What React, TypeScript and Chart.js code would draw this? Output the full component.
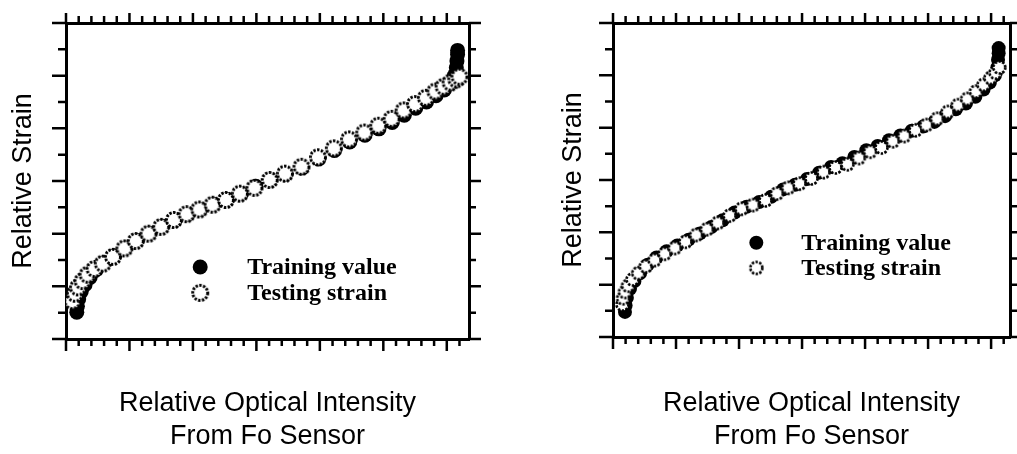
import React, { useEffect, useRef } from "react";
import { Chart, registerables } from "chart.js";

Chart.register(...registerables);

// ---------- text ----------
const legendLabels = ["Training value", "Testing strain"];
const xTitleLines = ["Relative Optical Intensity", "From Fo Sensor"];
const yTitleText = "Relative Strain";

// ---------- axis steps (no tick labels in the original) ----------
const X_MAJOR_STEP = 1;
const X_MINOR_STEP = 0.2;
const Y_MAJOR_STEP = 1;
const Y_MINOR_STEP = 0.5;

// ---------- left panel data ----------
const leftTrainX = [0.17, 0.18, 0.2, 0.24, 0.3, 0.38, 0.48, 0.6, 0.76, 0.94, 1.12, 1.32, 1.52, 1.72, 1.92, 2.12, 2.33, 2.54, 2.76, 2.99, 3.22, 3.46, 3.72, 3.98, 4.23, 4.47, 4.71, 4.93, 5.14, 5.33, 5.51, 5.68, 5.83, 5.96, 6.06, 6.12, 6.15, 6.16, 6.17, 6.17];
const leftTrainY = [0.51, 0.62, 0.76, 0.9, 1.03, 1.17, 1.32, 1.45, 1.58, 1.73, 1.87, 2.01, 2.14, 2.26, 2.37, 2.46, 2.56, 2.65, 2.76, 2.9, 3.02, 3.13, 3.25, 3.42, 3.58, 3.74, 3.87, 3.99, 4.11, 4.25, 4.38, 4.5, 4.62, 4.73, 4.85, 5.0, 5.15, 5.28, 5.4, 5.48];
const leftTestX = [0.1, 0.14, 0.19, 0.26, 0.34, 0.45, 0.58, 0.74, 0.92, 1.1, 1.3, 1.5, 1.7, 1.9, 2.1, 2.31, 2.52, 2.74, 2.97, 3.21, 3.45, 3.71, 3.97, 4.22, 4.46, 4.7, 4.92, 5.13, 5.32, 5.5, 5.67, 5.82, 5.95, 6.06, 6.15, 6.2];
const leftTestY = [0.72, 0.86, 0.98, 1.1, 1.22, 1.33, 1.43, 1.56, 1.72, 1.86, 2.0, 2.13, 2.26, 2.37, 2.46, 2.55, 2.64, 2.76, 2.87, 3.02, 3.14, 3.27, 3.45, 3.62, 3.79, 3.92, 4.05, 4.18, 4.34, 4.46, 4.58, 4.7, 4.79, 4.87, 4.93, 4.98];

// ---------- right panel data ----------
const rightTrainX = [0.19, 0.2, 0.22, 0.27, 0.34, 0.43, 0.55, 0.69, 0.85, 1.02, 1.2, 1.38, 1.56, 1.74, 1.93, 2.12, 2.32, 2.51, 2.7, 2.89, 3.08, 3.27, 3.46, 3.64, 3.83, 4.02, 4.2, 4.38, 4.56, 4.74, 4.92, 5.1, 5.27, 5.44, 5.6, 5.75, 5.88, 5.98, 6.06, 6.1, 6.11, 6.12, 6.12];
const rightTrainY = [0.48, 0.6, 0.75, 0.92, 1.07, 1.22, 1.38, 1.52, 1.64, 1.75, 1.86, 1.98, 2.1, 2.23, 2.38, 2.49, 2.58, 2.68, 2.82, 2.91, 3.02, 3.14, 3.25, 3.32, 3.44, 3.57, 3.65, 3.76, 3.85, 3.94, 4.02, 4.11, 4.22, 4.35, 4.46, 4.59, 4.73, 4.86, 5.0, 5.15, 5.3, 5.42, 5.52];
const rightTestX = [0.15, 0.16, 0.19, 0.24, 0.31, 0.4, 0.52, 0.66, 0.82, 0.98, 1.15, 1.32, 1.49, 1.66, 1.85, 2.04, 2.22, 2.42, 2.6, 2.78, 2.96, 3.15, 3.34, 3.53, 3.72, 3.9, 4.08, 4.26, 4.44, 4.62, 4.8, 4.97, 5.14, 5.31, 5.47, 5.62, 5.76, 5.88, 5.99, 6.07, 6.13];
const rightTestY = [0.62, 0.74, 0.86, 0.98, 1.1, 1.22, 1.35, 1.47, 1.59, 1.7, 1.82, 1.95, 2.06, 2.18, 2.32, 2.45, 2.52, 2.61, 2.74, 2.85, 2.93, 3.03, 3.15, 3.24, 3.3, 3.42, 3.54, 3.62, 3.74, 3.84, 3.95, 4.05, 4.17, 4.3, 4.43, 4.55, 4.69, 4.82, 4.95, 5.05, 5.15];

const toPoints = (xs: number[], ys: number[]) => xs.map((x, i) => ({ x, y: ys[i] }));

function makeDottedMarker(diameter: number, lineWidth: number, dash: number[]) {
  const c = document.createElement("canvas");
  const s = Math.ceil(diameter + lineWidth + 2);
  c.width = s;
  c.height = s;
  const ctx = c.getContext("2d")!;
  ctx.beginPath();
  ctx.arc(s / 2, s / 2, diameter / 2, 0, Math.PI * 2);
  ctx.fillStyle = "#ffffff";
  ctx.fill();
  ctx.setLineDash(dash);
  ctx.lineWidth = lineWidth;
  ctx.strokeStyle = "#000000";
  ctx.stroke();
  return c;
}

const isMultiple = (v: number, step: number) => Math.abs(v / step - Math.round(v / step)) < 1e-6;

const frameTicksPlugin = {
  id: "frameTicks",
  afterDraw(chart: any, _args: any, opts: any) {
    const { ctx, chartArea: a, scales } = chart;
    const xs = scales.x;
    const ys = scales.y;
    ctx.save();
    ctx.strokeStyle = "#000";
    ctx.lineWidth = opts.tickWidth;
    ctx.lineCap = "butt";
    ctx.beginPath();
    const xStart = Math.ceil(xs.min / X_MINOR_STEP - 1e-6);
    for (let i = xStart; i * X_MINOR_STEP <= xs.max + 1e-6; i++) {
      const v = i * X_MINOR_STEP;
      const major = isMultiple(v, X_MAJOR_STEP);
      const px = xs.getPixelForValue(v);
      ctx.moveTo(px, a.bottom);
      ctx.lineTo(px, a.bottom + (major ? opts.bottomMajor : opts.bottomMinor));
      ctx.moveTo(px, a.top);
      ctx.lineTo(px, a.top - (major ? opts.topMajor : opts.topMinor));
    }
    const yStart = Math.ceil(ys.min / Y_MINOR_STEP - 1e-6);
    for (let i = yStart; i * Y_MINOR_STEP <= ys.max + 1e-6; i++) {
      const v = i * Y_MINOR_STEP;
      const major = isMultiple(v, Y_MAJOR_STEP);
      const py = ys.getPixelForValue(v);
      ctx.moveTo(a.left, py);
      ctx.lineTo(a.left - (major ? opts.leftMajor : opts.leftMinor), py);
      ctx.moveTo(a.right, py);
      ctx.lineTo(a.right + (major ? opts.rightMajor : opts.rightMinor), py);
    }
    ctx.stroke();
    ctx.restore();
  },
};

const insideLegendPlugin = {
  id: "insideLegend",
  afterDraw(chart: any, _args: any, opts: any) {
    const { ctx, chartArea: a } = chart;
    const mx = a.left + opts.fx * (a.right - a.left);
    ctx.save();
    chart.data.datasets.forEach((ds: any, i: number) => {
      const my = a.top + opts.fy[i] * (a.bottom - a.top);
      const style = ds.pointStyle;
      if (style && typeof style === "object") {
        ctx.drawImage(style, mx - style.width / 2, my - style.height / 2);
      } else {
        ctx.beginPath();
        ctx.arc(mx, my, ds.pointRadius, 0, Math.PI * 2);
        ctx.fillStyle = ds.backgroundColor;
        ctx.fill();
      }
      ctx.fillStyle = "#000";
      ctx.font = opts.font;
      ctx.textBaseline = "middle";
      ctx.textAlign = "left";
      ctx.fillText(ds.label, mx + opts.gap, my + opts.textDy);
    });
    ctx.restore();
  },
};

type PanelProps = {
  left: number;
  width: number;
  trainX: number[];
  trainY: number[];
  testX: number[];
  testY: number[];
  xMax: number;
  padRight: number;
  yTitlePad: { top: number; bottom: number };
  xTitlePad: { top: number; bottom: number };
  trainRadius: number;
  testDiameter: number;
  testLine: number;
  legend: { fx: number; fy: number[]; gap: number };
};

function Panel(p: PanelProps) {
  const ref = useRef<HTMLCanvasElement | null>(null);
  useEffect(() => {
    if (!ref.current) return;
    const testMarker = makeDottedMarker(p.testDiameter, p.testLine, [2.4, 1.4]);
    const border = { display: true, color: "#000", width: 3 };
    const hiddenGrid = { display: false, drawTicks: false };
    const chart = new Chart(ref.current, {
      type: "scatter",
      data: {
        datasets: [
          {
            label: legendLabels[0],
            data: toPoints(p.trainX, p.trainY),
            pointStyle: "circle",
            pointRadius: p.trainRadius,
            backgroundColor: "#000",
            borderColor: "#000",
            borderWidth: 0,
            order: 2,
          },
          {
            label: legendLabels[1],
            data: toPoints(p.testX, p.testY),
            pointStyle: testMarker as any,
            pointRadius: p.testDiameter / 2,
            backgroundColor: "#fff",
            borderColor: "#000",
            order: 1,
          },
        ],
      },
      options: {
        animation: false,
        responsive: false,
        maintainAspectRatio: false,
        devicePixelRatio: 1,
        layout: { padding: { left: 0, right: p.padRight, top: 23, bottom: 0 } },
        events: [],
        scales: {
          x: {
            type: "linear",
            position: "bottom",
            min: 0,
            max: p.xMax,
            ticks: { display: false },
            grid: hiddenGrid,
            border,
            title: {
              display: true,
              text: xTitleLines,
              color: "#000",
              font: { family: "'Liberation Sans', Arial, sans-serif", size: 27, lineHeight: "33px" },
              padding: p.xTitlePad,
            },
          },
          x2: {
            type: "linear",
            axis: "x",
            position: "top",
            min: 0,
            max: p.xMax,
            ticks: { display: false },
            grid: hiddenGrid,
            border,
          },
          y: {
            type: "linear",
            position: "left",
            min: 0,
            max: 6,
            ticks: { display: false },
            grid: hiddenGrid,
            border,
            title: {
              display: true,
              text: yTitleText,
              color: "#000",
              font: { family: "'Liberation Sans', Arial, sans-serif", size: 27, lineHeight: "30px" },
              padding: p.yTitlePad,
            },
          },
          y2: {
            type: "linear",
            axis: "y",
            position: "right",
            min: 0,
            max: 6,
            ticks: { display: false },
            grid: hiddenGrid,
            border,
          },
        },
        plugins: {
          legend: { display: false },
          tooltip: { enabled: false },
          frameTicks: {
            tickWidth: 2.5,
            bottomMajor: 12,
            bottomMinor: 7,
            topMajor: 10,
            topMinor: 7,
            leftMajor: 14,
            leftMinor: 8,
            rightMajor: 12,
            rightMinor: 7,
          },
          insideLegend: {
            fx: p.legend.fx,
            fy: p.legend.fy,
            gap: p.legend.gap,
            textDy: 1,
            font: "bold 24px 'Liberation Serif', 'Times New Roman', serif",
          },
        } as any,
      },
      plugins: [frameTicksPlugin, insideLegendPlugin],
    } as any);
    return () => chart.destroy();
  }, []);
  return (
    <canvas
      ref={ref}
      width={p.width}
      height={454}
      style={{ position: "absolute", left: p.left, top: 0, width: p.width, height: 454 }}
    />
  );
}

export default function App() {
  return (
    <div style={{ position: "fixed", left: 0, top: 0, width: 1017, height: 454, background: "#fff", overflow: "hidden" }}>
      <Panel
        left={0}
        width={508}
        trainX={leftTrainX}
        trainY={leftTrainY}
        testX={leftTestX}
        testY={leftTestY}
        xMax={6.35}
        padRight={39}
        yTitlePad={{ top: 9, bottom: 27 }}
        xTitlePad={{ top: 48.5, bottom: 0.5 }}
        trainRadius={7.5}
        testDiameter={15}
        testLine={3}
        legend={{ fx: 0.333, fy: [0.772, 0.854], gap: 47 }}
      />
      <Panel
        left={508}
        width={509}
        trainX={rightTrainX}
        trainY={rightTrainY}
        testX={rightTestX}
        testY={rightTestY}
        xMax={6.3}
        padRight={5}
        yTitlePad={{ top: 51, bottom: 24 }}
        xTitlePad={{ top: 50.5, bottom: 0.5 }}
        trainRadius={7}
        testDiameter={12}
        testLine={2.6}
        legend={{ fx: 0.361, fy: [0.7, 0.78], gap: 45 }}
      />
    </div>
  );
}
